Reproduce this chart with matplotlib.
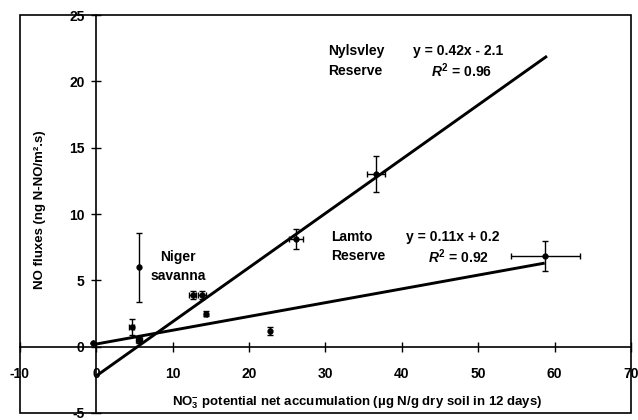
import matplotlib
matplotlib.use("Agg")
import matplotlib.pyplot as plt
from matplotlib.patches import Rectangle

plt.rcParams['font.family'] = ['Liberation Sans', 'DejaVu Sans']
plt.rcParams['font.weight'] = 'bold'
plt.rcParams['mathtext.fontset'] = 'custom'
plt.rcParams['mathtext.rm'] = 'Liberation Sans:bold'
plt.rcParams['mathtext.bf'] = 'Liberation Sans:bold'
plt.rcParams['mathtext.it'] = 'Liberation Sans:bold:italic'

# ---- data ----
pt_x = [-0.4, 4.6, 5.6, 5.6, 12.6, 13.8, 14.3, 22.7, 26.1, 36.6, 58.8]
pt_y = [0.3, 1.5, 6.0, 0.5, 3.9, 3.9, 2.5, 1.2, 8.1, 13.0, 6.85]
pt_xerr = [0.0, 0.3, 0.0, 0.4, 0.5, 0.5, 0.2, 0.0, 0.9, 1.2, 4.5]
pt_yerr = [0.0, 0.6, 2.6, 0.2, 0.3, 0.3, 0.2, 0.3, 0.75, 1.35, 1.15]

nyl_line_x = [0, 59]
nyl_line_y = [-2.2, 21.9]
lamto_line_x = [0, 58.7]
lamto_line_y = [0.2, 6.3]

x_ticks = [-10, 0, 10, 20, 30, 40, 50, 60, 70]
y_ticks = [-5, 0, 5, 10, 15, 20, 25]

fig = plt.figure(figsize=(6.38, 4.2), dpi=100)
ax = fig.add_axes([20/638, 7/420, 611/638, 398/420])
ax.set_xlim(-10, 70)
ax.set_ylim(-5, 25)

ax.spines['left'].set_position(('data', 0))
ax.spines['bottom'].set_position(('data', 0))
ax.spines['right'].set_visible(False)
ax.spines['top'].set_visible(False)
for s in ('left', 'bottom'):
    ax.spines[s].set_linewidth(1.2)
ax.add_patch(Rectangle((0, 0), 1, 1, transform=ax.transAxes, fill=False,
                       lw=1.2, edgecolor='black', clip_on=False, zorder=5))

ax.set_xticks(x_ticks)
ax.set_yticks(y_ticks)
ax.set_xticklabels([str(v) for v in x_ticks])
ax.set_yticklabels([str(v) for v in y_ticks])
ax.tick_params(axis='x', direction='inout', length=7, width=1, labelsize=10, pad=11)
ax.tick_params(axis='y', direction='inout', length=7, width=1, labelsize=10, pad=5)

ax.plot(nyl_line_x, nyl_line_y, color='black', lw=2.1, solid_capstyle='butt')
ax.plot(lamto_line_x, lamto_line_y, color='black', lw=2.1, solid_capstyle='butt')

ax.errorbar(pt_x, pt_y, xerr=pt_xerr, yerr=pt_yerr, fmt='o', ms=3.5,
            color='black', ecolor='black', elinewidth=1, capsize=2.5,
            capthick=1, zorder=4)

fs = 10
ax.text(30.3, 22.3, 'Nylsvley', fontsize=fs, va='center', ha='left')
ax.text(30.3, 20.8, 'Reserve', fontsize=fs, va='center', ha='left')
ax.text(41.4, 22.3, 'y = 0.42x - 2.1', fontsize=fs, va='center', ha='left')
ax.text(43.8, 20.8, r'$\it{R}^\mathbf{2}$ = 0.96', fontsize=fs, va='center', ha='left')

ax.text(30.7, 8.25, 'Lamto', fontsize=fs, va='center', ha='left')
ax.text(30.7, 6.8, 'Reserve', fontsize=fs, va='center', ha='left')
ax.text(40.6, 8.25, 'y = 0.11x + 0.2', fontsize=fs, va='center', ha='left')
ax.text(43.4, 6.8, r'$\it{R}^\mathbf{2}$ = 0.92', fontsize=fs, va='center', ha='left')

ax.text(10.7, 6.75, 'Niger', fontsize=fs, va='center', ha='center')
ax.text(10.7, 5.3, 'savanna', fontsize=fs, va='center', ha='center')

fig.text(357/638, 1 - 403/420,
         r'NO$_\mathbf{3}^{-}$ potential net accumulation (µg N/g dry soil in 12 days)',
         ha='center', va='center', fontsize=9.5)
fig.text(40/638, 1 - 210/420, 'NO fluxes (ng N-NO/m².s)', rotation=90,
         ha='center', va='center', fontsize=9.5)

fig.savefig('out.png', dpi=100)
